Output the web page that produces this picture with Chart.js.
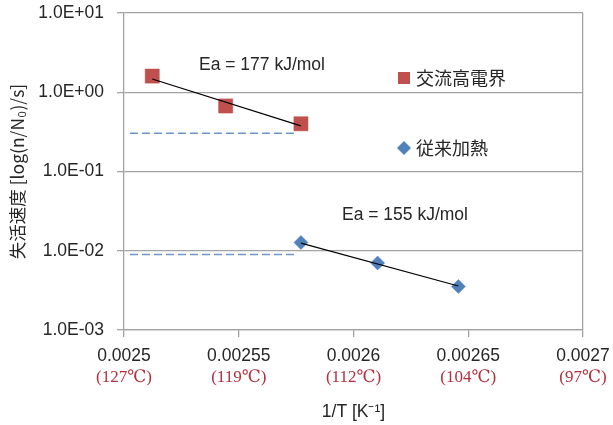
<!DOCTYPE html>
<html>
<head>
<meta charset="utf-8">
<script src="https://cdn.jsdelivr.net/npm/chart.js@4"></script>
<style>
  html, body { margin: 0; padding: 0; background: #fff; }
  #wrap { width: 613px; height: 425px; }
</style>
</head>
<body>
<div id="wrap"><canvas id="arrChart" width="613" height="425"></canvas></div>
<script>
// tick labels
const xTickValues = [0.0025, 0.00255, 0.0026, 0.00265, 0.0027];
const xTickLabels = ["0.0025", "0.00255", "0.0026", "0.00265", "0.0027"];
const tempLabels = ["(127℃)", "(119℃)", "(112℃)", "(104℃)", "(97℃)"];
const yTickValues = [0.001, 0.01, 0.1, 1, 10];
const yTickLabels = ["1.0E-03", "1.0E-02", "1.0E-01", "1.0E+00", "1.0E+01"];

// series
const seriesNames = ["交流高電界", "従来加熱"];
const acX = [0.0025123, 0.0025443, 0.0025771];
const acY = [1.60, 0.671, 0.40];
const convX = [0.0025771, 0.0026105, 0.0026457];
const convY = [0.0127, 0.0070, 0.00354];

// trend lines
const acTrendX = [0.0025123, 0.0025771];
const acTrendY = [1.47, 0.376];
const convTrendX = [0.0025771, 0.0026457];
const convTrendY = [0.0125, 0.00359];
const eaLabels = ["Ea = 177 kJ/mol", "Ea = 155 kJ/mol"];

// dashed reference lines
const dashX = [0.0025026, 0.0025754];
const dashUpperY = [0.303, 0.303];
const dashLowerY = [0.009, 0.009];

const pts = (xs, ys) => xs.map((x, i) => ({ x: x, y: ys[i] }));

const RED = "#c0504d";
const BLUE = "#4f81bd";
const GRID = "#a3a3a3";
const TXT = "#262626";
const SANS = "'Liberation Sans', Arial, 'Noto Sans CJK JP', sans-serif";
const CJK = "'Noto Sans CJK JP', 'Liberation Sans', sans-serif";

// labels drawn on the canvas: Ea texts, legend, temperatures under x ticks
const extraText = {
    id: "extraText",
    afterDraw(chart) {
        const ctx = chart.ctx;
        const xs = chart.scales.x;
        ctx.save();
        ctx.fillStyle = TXT;
        ctx.textBaseline = "middle";
        ctx.textAlign = "left";
        ctx.font = "17.5px " + SANS;
        ctx.fillText(eaLabels[0], 199, 65);
        ctx.fillText(eaLabels[1], 342, 215);

        // legend
        ctx.fillStyle = RED;
        ctx.fillRect(398, 72, 12, 12);
        ctx.fillStyle = BLUE;
        ctx.beginPath();
        ctx.moveTo(404, 141);
        ctx.lineTo(411, 148);
        ctx.lineTo(404, 155);
        ctx.lineTo(397, 148);
        ctx.closePath();
        ctx.fill();
        ctx.fillStyle = TXT;
        ctx.font = "18px " + CJK;
        ctx.fillText(seriesNames[0], 416, 78);
        ctx.fillText(seriesNames[1], 416, 148);

        // temperatures
        ctx.fillStyle = "#b0303f";
        ctx.textAlign = "center";
        ctx.font = "17px 'Liberation Serif', 'DejaVu Serif', serif";
        xTickValues.forEach((v, i) => {
            ctx.fillText(tempLabels[i], xs.getPixelForValue(v), 378);
        });
        ctx.restore();
    }
};

new Chart(document.getElementById("arrChart"), {
    type: "scatter",
    data: {
        datasets: [
            {
                label: "trendAC",
                data: pts(acTrendX, acTrendY),
                showLine: true,
                borderColor: "#000",
                borderWidth: 1.2,
                pointRadius: 0,
            },
            {
                label: "trendConv",
                data: pts(convTrendX, convTrendY),
                showLine: true,
                borderColor: "#000",
                borderWidth: 1.2,
                pointRadius: 0,
            },
            {
                label: seriesNames[0],
                data: pts(acX, acY),
                pointStyle: "rect",
                pointRadius: 10,
                backgroundColor: RED,
                borderColor: RED,
                borderWidth: 0.5,
            },
            {
                label: seriesNames[1],
                data: pts(convX, convY),
                pointStyle: "rectRot",
                pointRadius: 7,
                backgroundColor: BLUE,
                borderColor: BLUE,
                borderWidth: 0.5,
            },
            {
                label: "dash1",
                data: pts(dashX, dashUpperY),
                showLine: true,
                borderColor: "#6d95c8",
                borderWidth: 1.5,
                borderDash: [8, 4],
                pointRadius: 0,
            },
            {
                label: "dash2",
                data: pts(dashX, dashLowerY),
                showLine: true,
                borderColor: "#6d95c8",
                borderWidth: 1.5,
                borderDash: [8, 4],
                pointRadius: 0,
            },
        ],
    },
    options: {
        responsive: false,
        animation: false,
        layout: { padding: { left: 0, right: 30, top: 13, bottom: 0 } },
        plugins: {
            legend: { display: false },
            tooltip: { enabled: false },
        },
        scales: {
            x: {
                type: "linear",
                min: 0.0025,
                max: 0.0027,
                afterBuildTicks: (s) => { s.ticks = xTickValues.map((v) => ({ value: v })); },
                afterFit: (s) => {
                    s.height = 95;
                    s.paddingLeft = 0;
                    s.paddingRight = 0;
                },
                ticks: {
                    callback: (v, i) => xTickLabels[i],
                    color: TXT,
                    font: { family: SANS, size: 17.5 },
                    padding: 9,
                    maxRotation: 0,
                    autoSkip: false,
                },
                grid: {
                    color: (c) => (c.index === xTickValues.length - 1 ? GRID : "rgba(0,0,0,0)"),
                    tickColor: GRID,
                    tickLength: 7,
                    lineWidth: 1.3,
                },
                border: { color: GRID, width: 1.3 },
                title: {
                    display: true,
                    text: "1/T [K⁻¹]",
                    color: TXT,
                    font: { family: SANS, size: 17.5 },
                    padding: { top: 0, bottom: 2 },
                },
            },
            y: {
                type: "logarithmic",
                min: 0.001,
                max: 10,
                afterBuildTicks: (s) => { s.ticks = yTickValues.map((v) => ({ value: v })); },
                afterFit: (s) => {
                    s.width = 124;
                    s.paddingTop = 0;
                    s.paddingBottom = 0;
                },
                ticks: {
                    callback: (v, i) => yTickLabels[i],
                    color: TXT,
                    font: { family: SANS, size: 17.5 },
                    padding: 13,
                },
                grid: {
                    color: GRID,
                    tickColor: GRID,
                    tickLength: 7,
                    lineWidth: 1.3,
                },
                border: { color: GRID, width: 1.3 },
                title: {
                    display: true,
                    text: "失活速度 [log(n/N₀)/s]",
                    color: TXT,
                    font: { family: CJK, size: 17.5 },
                    padding: { top: 7, bottom: 0 },
                },
            },
        },
    },
    plugins: [extraText],
});
</script>
</body>
</html>
